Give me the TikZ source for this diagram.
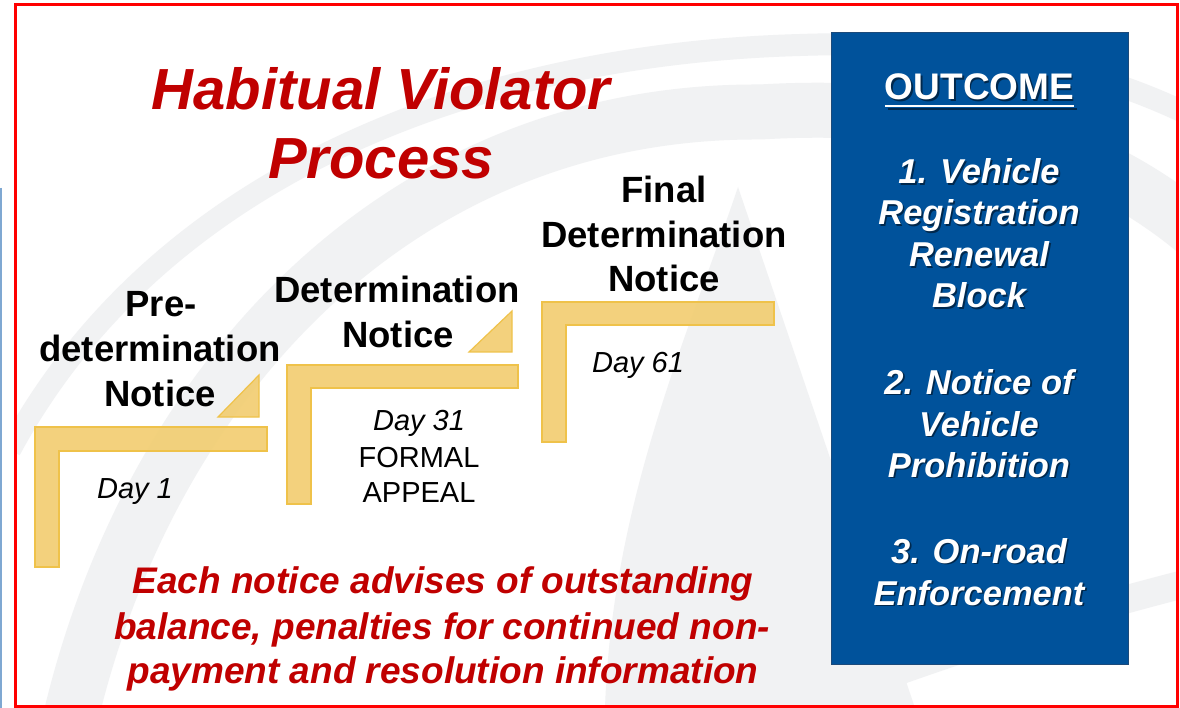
\documentclass[tikz,border=0pt]{standalone}
\usepackage{fontspec}
\setmainfont{Liberation Sans}

\definecolor{titlered}{HTML}{C00000}
\definecolor{framered}{HTML}{FF0000}
\definecolor{gold}{HTML}{F2CE72}
\definecolor{goldedge}{HTML}{EFC24A}
\definecolor{boxblue}{HTML}{00529B}
\definecolor{boxedge}{HTML}{1C4A7A}
\definecolor{markgray}{HTML}{F1F2F3}
\definecolor{sideblue}{HTML}{7FA8D2}

\tikzset{
  txt/.style={inner sep=0pt, anchor=base},
  titletext/.style={txt, text=titlered, font=\fontsize{58}{68}\selectfont\bfseries\itshape},
  steplabel/.style={txt, text=black, font=\fontsize{36.5}{44}\selectfont\bfseries},
  daytext/.style={txt, text=black, font=\fontsize{29}{36}\selectfont\itshape},
  plaintext/.style={txt, text=black, font=\fontsize{29}{36}\selectfont},
  notetext/.style={txt, text=titlered, font=\fontsize{37}{44}\selectfont\bfseries\itshape},
  outhead/.style={txt, text=white, font=\fontsize{37}{44}\selectfont\bfseries},
  outitem/.style={txt, text=white, font=\fontsize{34.5}{41}\selectfont\bfseries\itshape},
  shade/.style={text=black, text opacity=.5, xshift=1.6pt, yshift=-1.6pt},
  goldshape/.style={fill=gold, draw=goldedge, line width=1.2pt, fill opacity=.92, line join=miter},
}

\begin{document}
\begin{tikzpicture}[x=1pt, y=-1pt]
\useasboundingbox (0,0) rectangle (1180,708);
\fill[white] (0,0) rectangle (1180,708);

% faint watermark inside the frame
\begin{scope}
  \clip (15,4.5) rectangle (1177.5,706);
  \fill[markgray] (738,187) .. controls (690,330) and (612,500) .. (605,708)
                  -- (915,708) -- cycle;
  \draw[markgray, line width=55pt] (70,720) .. controls (150,380) and (400,110) .. (760,112)
        .. controls (960,100) and (1100,150) .. (1200,235);
  \draw[markgray, line width=22pt] (10,450) .. controls (150,190) and (450,55) .. (800,45)
        .. controls (1000,38) and (1120,80) .. (1200,120);
  \draw[markgray, line width=28pt] (820,700) .. controls (950,650) and (1080,610) .. (1200,580);
\end{scope}

% thin side rule and red frame
\draw[sideblue, line width=1.5pt] (0.75,188) -- (0.75,708);
\draw[framered, line width=3pt] (15,4.5) rectangle (1177.5,706);

% title
\node[titletext] (title1) at (381,110) {Habitual Violator};
\node[titletext] (title2) at (381,179) {Process};

% stair steps
\draw[goldshape] (35,427) -- (267,427) -- (267,451) -- (59,451) -- (59,567) -- (35,567) -- cycle;
\draw[goldshape] (218,417) -- (259,417) -- (259,375) -- cycle;
\draw[goldshape] (287,365) -- (518,365) -- (518,388) -- (311,388) -- (311,504) -- (287,504) -- cycle;
\draw[goldshape] (469,352) -- (512,352) -- (512,311) -- cycle;
\draw[goldshape] (542,302) -- (774,302) -- (774,325) -- (566,325) -- (566,442) -- (542,442) -- cycle;

% step labels
\node[steplabel] (pre1) at (161,317) {Pre-};
\node[steplabel] (pre2) at (160,362) {determination};
\node[steplabel] (pre3) at (160,406) {Notice};
\node[steplabel] (det1) at (397,303) {Determination};
\node[steplabel] (det2) at (398,348) {Notice};
\node[steplabel] (fin1) at (664,203) {Final};
\node[steplabel] (fin2) at (664,248) {Determination};
\node[steplabel] (fin3) at (664,292) {Notice};

% day marks
\node[daytext] (day1) at (135,498) {Day 1};
\node[daytext] (day31) at (419,430) {Day 31};
\node[plaintext] (formal) at (419,467) {FORMAL};
\node[plaintext] (appeal) at (419,502) {APPEAL};
\node[daytext] (day61) at (638,372) {Day 61};

% note below the steps
\node[notetext] (note1) at (443,593) {Each notice advises of outstanding};
\node[notetext] (note2) at (442,639) {balance, penalties for continued non-};
\node[notetext] (note3) at (443,683) {payment and resolution information};

% outcome panel
\fill[boxblue] (831,33) rectangle (1128,664);
\draw[boxedge, line width=1pt] (831,33) rectangle (1128,664);

\node[outhead, shade] (headshade) at (979.5,100) {OUTCOME};
\draw[black, opacity=.5, line width=2.5pt] ([xshift=1.6pt, yshift=-7.6pt]headshade.base west) -- ([xshift=1.6pt, yshift=-7.6pt]headshade.base east);
\node[outhead] (head) at (979.5,100) {OUTCOME};
\draw[white, line width=2.5pt] ([yshift=-6pt]head.base west) -- ([yshift=-6pt]head.base east);

\foreach \t/\yy [count=\i] in {{1. Vehicle}/184, Registration/225, Renewal/267, Block/308,
    {2. Notice of}/394, Vehicle/436, Prohibition/477, {3. On-road}/563, Enforcement/605} {
  \node[outitem, shade] (itemshade\i) at (979,\yy) {\t};
  \node[outitem] (item\i) at (979,\yy) {\t};
}
\end{tikzpicture}
\end{document}
